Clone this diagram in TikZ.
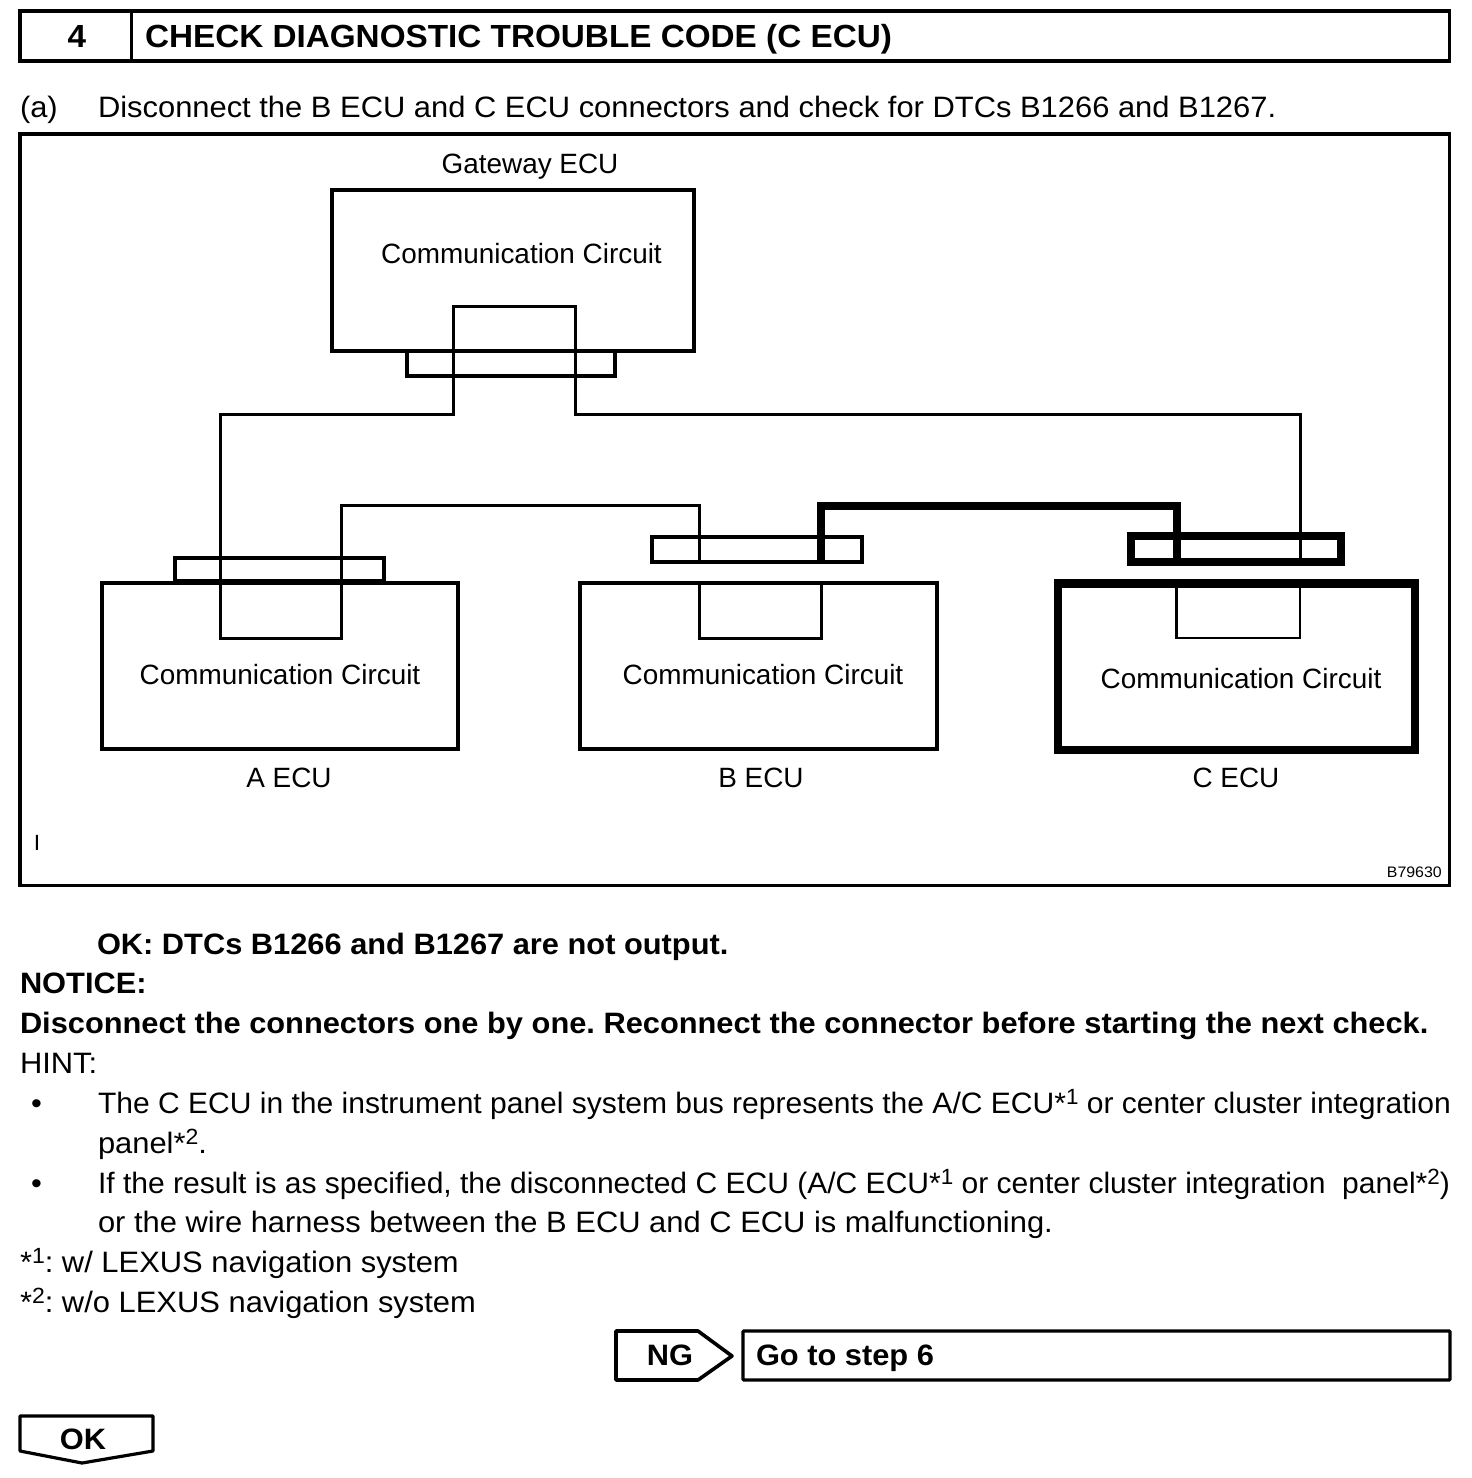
\documentclass[tikz,border=0pt]{standalone}
\usepackage{fontspec}
\setmainfont[FakeStretch=1.0475,BoldFeatures={FakeStretch=1.044}]{Liberation Sans}
\newfontfamily\plainfont{Liberation Sans}
\newfontfamily\tightfont[FakeStretch=1.018]{Liberation Sans}
\newfontfamily\titlefont[FakeStretch=1.04]{Liberation Sans}
\newcommand{\bodysize}{\fontsize{29.5}{34}\selectfont}
\newcommand{\labelsize}{\plainfont\fontsize{27.9}{34}\selectfont}
\newcommand{\smallraise}[1]{\raisebox{9pt}{\fontsize{22}{26}\selectfont #1}}
\tikzset{
  x=1pt,y=-1pt,
  wire/.style={line width=3pt,line join=miter},
  cwire/.style={line width=2.4pt,line join=miter},
  thickwire/.style={line width=8pt,line join=miter},
  box/.style={draw,line width=3.4pt,rectangle,inner sep=0pt,outer sep=0pt},
  heavybox/.style={draw,line width=8.5pt,rectangle,inner sep=0pt,outer sep=0pt},
  plug/.style={draw,line width=4pt,rectangle,inner sep=0pt,outer sep=0pt},
  heavyplug/.style={draw,line width=8pt,rectangle,inner sep=0pt,outer sep=0pt},
  txt/.style={anchor=base west,inner sep=0pt,outer sep=0pt,font=\bodysize},
  tighttxt/.style={anchor=base west,inner sep=0pt,outer sep=0pt,font=\tightfont\bodysize},
  lbl/.style={anchor=base,inner sep=0pt,outer sep=0pt,font=\labelsize},
  btxt/.style={anchor=base west,inner sep=0pt,outer sep=0pt,font=\bodysize\bfseries},
  cbtxt/.style={anchor=base,inner sep=0pt,outer sep=0pt,font=\bodysize\bfseries},
  titletxt/.style={inner sep=0pt,outer sep=0pt,font=\titlefont\fontsize{32}{38}\selectfont\bfseries},
}
\begin{document}
\frenchspacing
\begin{tikzpicture}
\useasboundingbox (0,0) rectangle (1472,1478);
% header
\node[box,minimum width=1429.5pt,minimum height=50pt] (head) at (734.75,36) {};
\coordinate (divtop) at (131.5,11);
\coordinate (divbot) at (131.5,61);
\draw[line width=2.8pt] (divtop) -- (divbot);
\node[titletxt,anchor=base] (stepno) at (77,47) {4};
\node[titletxt,anchor=base west] (title) at (145,47) {CHECK DIAGNOSTIC TROUBLE CODE (C ECU)};
\node[txt] (a) at (20,117) {(a)};
\node[txt] (aline) at (98,117) {Disconnect the B ECU and C ECU connectors and check for DTCs B1266 and B1267.};
% diagram frame
\node[box,line width=3.8pt,minimum width=1429.5pt,minimum height=751.5pt] (frame) at (734.75,509.75) {};
\node[lbl] (gwlabel) at (530,173) {Gateway ECU};
% ECU boxes
\node[box,minimum width=362pt,minimum height=161pt] (gw) at (513,270.5) {};
\node[box,minimum width=356pt,minimum height=166pt] (aecu) at (280,666) {};
\node[box,minimum width=357pt,minimum height=166pt] (becu) at (758.5,666) {};
\node[heavybox,minimum width=357pt,minimum height=166.5pt] (cecu) at (1236.5,666.7) {};
% connectors
\node[box,minimum width=208pt,minimum height=25pt] (gwplug) at (511,363.5) {};
\node[plug,minimum width=209pt,minimum height=23pt] (aplug) at (279.5,569.5) {};
\node[plug,minimum width=210pt,minimum height=25pt] (bplug) at (757,549) {};
\node[heavyplug,minimum width=210pt,minimum height=26pt] (cplug) at (1236,549) {};
% wires
\coordinate (w1) at (220,414);
\coordinate (w2) at (453,414);
\coordinate (w3) at (453,306);
\coordinate (w4) at (575,306);
\coordinate (w5) at (575,414);
\coordinate (w6) at (1300,414);
\coordinate (w7) at (1300,562);
\coordinate (a1) at (220,638);
\coordinate (a2) at (341,638);
\coordinate (a3) at (341,505.5);
\coordinate (b0) at (699.5,505.5);
\coordinate (bp) at (699.5,561);
\coordinate (bb) at (699.5,583);
\coordinate (b1) at (699.5,638);
\coordinate (b2) at (821,638);
\coordinate (b3) at (821,583);
\coordinate (t1) at (821,561);
\coordinate (t2) at (821,505.5);
\coordinate (t3) at (1176.5,505.5);
\coordinate (t4) at (1176.5,562);
\coordinate (cb) at (1176.5,583);
\coordinate (c1) at (1176.5,638);
\coordinate (c2) at (1300,638);
\coordinate (c3) at (1300,583);
\draw[wire] (w7) -- (w6) -- (w5) -- (w4) -- (w3) -- (w2) -- (w1) -- (a1) -- (a2) -- (a3) -- (b0) -- (bp);
\draw[wire] (bb) -- (b1) -- (b2) -- (b3);
\draw[cwire] (cb) -- (c1) -- (c2) -- (c3);
\draw[thickwire] (t1) -- (t2) -- (t3) -- (t4);
% labels
\node[lbl] (gwcc) at (521.5,263) {Communication Circuit};
\node[lbl] (acc) at (280,684) {Communication Circuit};
\node[lbl] (bcc) at (763,684) {Communication Circuit};
\node[lbl] (ccc) at (1241,688) {Communication Circuit};
\node[lbl] (alabel) at (289,787) {A ECU};
\node[lbl] (blabel) at (761,787) {B ECU};
\node[lbl] (clabel) at (1236,787) {C ECU};
\node[anchor=base,inner sep=0pt,font=\fontsize{22}{26}\selectfont] (imark) at (37,850) {I};
\node[anchor=base east,inner sep=0pt,font=\fontsize{15.2}{18}\selectfont] (figno) at (1442,877) {B79630};
% body
\node[btxt] (ok) at (97,954) {OK: DTCs B1266 and B1267 are not output.};
\node[btxt] (notice) at (20,993.5) {NOTICE:};
\node[btxt] (notice2) at (20,1033.5) {Disconnect the connectors one by one. Reconnect the connector before starting the next check.};
\node[txt] (hint) at (20,1073) {HINT:};
\node[txt] (b1dot) at (31,1113) {•};
\node[tighttxt] (l1) at (98,1113) {The C ECU in the instrument panel system bus represents the A/C ECU*\smallraise{1} or center cluster integration};
\node[txt] (l2) at (98,1153) {panel*\smallraise{2}.};
\node[txt] (b2dot) at (31,1193) {•};
\node[tighttxt] (l3) at (98,1193) {If the result is as specified, the disconnected C ECU (A/C ECU*\smallraise{1} or center cluster integration\ \ panel*\smallraise{2})};
\node[txt] (l4) at (98,1232) {or the wire harness between the B ECU and C ECU is malfunctioning.};
\node[txt] (n1) at (20,1272) {*\smallraise{1}: w/ LEXUS navigation system};
\node[txt] (n2) at (20,1312) {*\smallraise{2}: w/o LEXUS navigation system};
% NG / OK tabs
\coordinate (ng1) at (616,1331);
\coordinate (ng2) at (698,1331);
\coordinate (ng3) at (732,1356);
\coordinate (ng4) at (698,1380);
\coordinate (ng5) at (616,1380);
\draw[line width=3.6pt,line join=round] (ng1) -- (ng2) -- (ng3) -- (ng4) -- (ng5) -- cycle;
\node[cbtxt] (ngtext) at (670,1365.5) {NG};
\node[box,rounded corners=1pt,minimum width=707pt,minimum height=49pt] (gobox) at (1096.5,1355.5) {};
\node[btxt] (gotext) at (756,1365.5) {Go to step 6};
\coordinate (ok1) at (20,1416);
\coordinate (ok2) at (153,1416);
\coordinate (ok3) at (153,1451);
\coordinate (ok4) at (82,1463);
\coordinate (ok5) at (20,1451);
\draw[line width=3.2pt,line join=round] (ok1) -- (ok2) -- (ok3) -- (ok4) -- (ok5) -- cycle;
\node[cbtxt] (oktext) at (83,1449) {OK};
\end{tikzpicture}
\end{document}
